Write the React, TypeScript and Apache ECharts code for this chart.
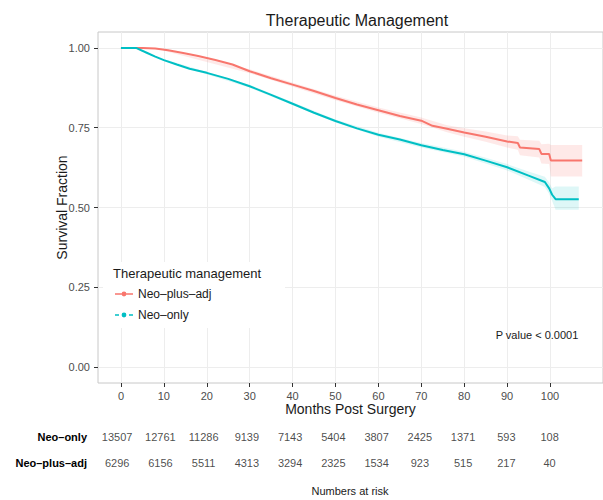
import React, { useEffect, useRef } from "react";
import * as echarts from "echarts";

// Kaplan–Meier estimates
const redMonths = [0, 5, 8, 11, 14.5, 18, 22, 26, 30, 35, 40, 45, 50, 55, 60, 65, 70, 72.6, 76, 80, 85, 90, 92.5, 93, 97.5, 98, 99.8, 100.2, 107.5];
const redSurv = [1, 1, 0.998, 0.993, 0.984, 0.975, 0.962, 0.948, 0.927, 0.905, 0.885, 0.865, 0.843, 0.823, 0.805, 0.787, 0.772, 0.756, 0.747, 0.735, 0.722, 0.707, 0.702, 0.688, 0.683, 0.668, 0.668, 0.647, 0.647];

const cyanMonths = [0, 3.5, 6, 8, 10, 13, 16, 20, 25, 30, 35, 40, 45, 50, 55, 60, 65, 70, 75, 80, 85, 90, 95, 98.8, 99.8, 100.5, 101.3, 106.7];
const cyanSurv = [1, 1, 0.985, 0.973, 0.962, 0.948, 0.935, 0.922, 0.903, 0.88, 0.853, 0.825, 0.797, 0.771, 0.748, 0.728, 0.713, 0.695, 0.68, 0.667, 0.647, 0.626, 0.6, 0.58, 0.56, 0.54, 0.526, 0.526];

// Confidence bands
const redBandMonths = [10, 30, 50, 60, 70, 76, 80, 85, 90, 92.5, 93, 97.5, 98, 99.8, 100.2, 107.5];
const redLower = [0.991, 0.921, 0.836, 0.797, 0.762, 0.736, 0.722, 0.706, 0.688, 0.681, 0.664, 0.657, 0.638, 0.636, 0.597, 0.597];
const redUpper = [0.995, 0.933, 0.85, 0.813, 0.782, 0.758, 0.748, 0.738, 0.726, 0.723, 0.712, 0.709, 0.698, 0.7, 0.696, 0.696];

const cyanBandMonths = [10, 30, 50, 60, 70, 80, 85, 90, 95, 98.8, 99.8, 100.5, 101.3, 106.7];
const cyanLower = [0.959, 0.875, 0.766, 0.722, 0.688, 0.659, 0.638, 0.616, 0.587, 0.564, 0.542, 0.52, 0.493, 0.493];
const cyanUpper = [0.965, 0.885, 0.776, 0.734, 0.702, 0.675, 0.656, 0.636, 0.613, 0.596, 0.578, 0.56, 0.566, 0.566];

// Axis ticks
const xTicks = [0, 10, 20, 30, 40, 50, 60, 70, 80, 90, 100];
const yTicks = [0, 0.25, 0.5, 0.75, 1];

// Numbers at risk
const riskMonths = [0, 10, 20, 30, 40, 50, 60, 70, 80, 90, 100];
const neoOnlyRisk = [13507, 12761, 11286, 9139, 7143, 5404, 3807, 2425, 1371, 593, 108];
const neoPlusRisk = [6296, 6156, 5511, 4313, 3294, 2325, 1534, 923, 515, 217, 40];

const RED = "#F8766D";
const CYAN = "#00BFC4";
const NAME_PLUS = "Neo–plus–adj";
const NAME_ONLY = "Neo–only";
const FONT = "Liberation Sans, Arial, sans-serif";

const solidIcon = "path://M0 3.2H18V4.8H0Z M6.6 4a2.4 2.4 0 1 1 4.8 0a2.4 2.4 0 1 1 -4.8 0Z";
const dashIcon = "path://M0 3.2H4V4.8H0Z M6.6 4a2.4 2.4 0 1 1 4.8 0a2.4 2.4 0 1 1 -4.8 0Z M14 3.2H18V4.8H14Z";

function bandSeries(name: string, months: number[], lo: number[], hi: number[], color: string, opacity: number) {
  return {
    type: "custom",
    name,
    xAxisIndex: 0,
    yAxisIndex: 0,
    z: 1,
    silent: true,
    data: months.map((m, i) => [m, lo[i], hi[i]]),
    encode: { x: 0, y: [1, 2] },
    renderItem: (params: any, api: any) => {
      if (params.dataIndex !== 0) return null;
      const pts: number[][] = [];
      for (let i = 0; i < months.length; i++) pts.push(api.coord([months[i], hi[i]]));
      for (let i = months.length - 1; i >= 0; i--) pts.push(api.coord([months[i], lo[i]]));
      return { type: "polygon", shape: { points: pts }, style: { fill: color, opacity } };
    },
  };
}

function riskSeries(name: string, cat: string, values: number[]) {
  return {
    type: "scatter",
    name,
    xAxisIndex: 1,
    yAxisIndex: 1,
    symbolSize: 0,
    silent: true,
    data: riskMonths.map((m, i) => [m, cat, values[i]]),
    label: {
      show: true,
      position: "inside",
      fontFamily: FONT,
      fontSize: 11,
      color: "#1a1a1a",
      formatter: (p: any) => String(p.value[2]),
    },
  };
}

export default function App() {
  const ref = useRef<HTMLDivElement>(null);
  useEffect(() => {
    if (!ref.current) return;
    const chart = echarts.init(ref.current, null, { renderer: "svg" });
    const option: any = {
      animation: false,
      backgroundColor: "#ffffff",
      textStyle: { fontFamily: FONT },
      title: {
        text: "Therapeutic Management",
        left: 352,
        top: 7,
        textAlign: "center",
        textStyle: { fontFamily: FONT, fontSize: 16, fontWeight: "normal", color: "#1a1a1a" },
      },
      grid: [
        { left: 98, top: 32, right: 0, bottom: 117, show: true, borderColor: "#c8c8c8", borderWidth: 1, backgroundColor: "transparent" },
        { left: 94, width: 515, top: 424, height: 52, show: false },
      ],
      legend: {
        data: [
          { name: NAME_PLUS, icon: solidIcon },
          { name: NAME_ONLY, icon: dashIcon },
        ],
        orient: "vertical",
        left: 115,
        top: 288,
        itemWidth: 18,
        itemHeight: 8,
        itemGap: 9,
        padding: 0,
        itemStyle: { borderWidth: 0 },
        textStyle: { fontFamily: FONT, fontSize: 12, color: "#1a1a1a" },
        selectedMode: false,
      },
      xAxis: [
        {
          gridIndex: 0,
          type: "value",
          min: -5.35,
          max: 112.35,
          name: "Months Post Surgery",
          nameLocation: "middle",
          nameGap: 19,
          nameMoveOverlap: false,
          nameTextStyle: { fontFamily: FONT, fontSize: 14, color: "#1a1a1a" },
          axisLine: { show: false, onZero: false },
          axisTick: { show: true, length: 4, lineStyle: { color: "#333333" }, customValues: xTicks },
          axisLabel: { customValues: xTicks, color: "#4d4d4d", fontSize: 11, margin: 7, fontFamily: FONT },
          splitLine: { show: true, lineStyle: { color: "#ededed", width: 1 } },
        },
        {
          gridIndex: 1,
          type: "value",
          min: -5.35,
          max: 112.35,
          show: false,
          splitLine: { show: false },
        },
      ],
      yAxis: [
        {
          gridIndex: 0,
          type: "value",
          min: -0.05,
          max: 1.05,
          name: "Survival Fraction",
          nameLocation: "middle",
          nameGap: 29,
          nameMoveOverlap: false,
          nameTextStyle: { fontFamily: FONT, fontSize: 14, color: "#1a1a1a" },
          axisLine: { show: false, onZero: false },
          axisTick: { show: true, length: 4, lineStyle: { color: "#333333" }, customValues: yTicks },
          axisLabel: {
            customValues: yTicks,
            color: "#4d4d4d",
            fontSize: 11,
            margin: 8,
            fontFamily: FONT,
            formatter: (v: number) => v.toFixed(2),
          },
          splitLine: { show: true, lineStyle: { color: "#ededed", width: 1 } },
        },
        {
          gridIndex: 1,
          type: "category",
          data: [NAME_PLUS, NAME_ONLY],
          axisLine: { show: false },
          axisTick: { show: false },
          splitLine: { show: false },
          axisLabel: { color: "#000000", fontWeight: "bold", fontSize: 11, margin: 7, fontFamily: FONT },
        },
      ],
      graphic: [
        { type: "rect", z: 1, shape: { x: 103, y: 262, width: 182, height: 66 }, style: { fill: "#ffffff" }, silent: true },
        {
          type: "text",
          z: 5,
          x: 113,
          y: 273,
          style: { text: "Therapeutic management", fontFamily: FONT, fontSize: 13, fill: "#1a1a1a", verticalAlign: "middle", align: "left" },
        },
        {
          type: "text",
          z: 5,
          x: 537,
          y: 335,
          style: { text: "P value < 0.0001", fontFamily: FONT, fontSize: 11, fill: "#1a1a1a", verticalAlign: "middle", align: "center" },
        },
        {
          type: "text",
          z: 5,
          x: 350,
          y: 491,
          style: { text: "Numbers at risk", fontFamily: FONT, fontSize: 11, fill: "#1a1a1a", verticalAlign: "middle", align: "center" },
        },
      ],
      series: [
        bandSeries("band-plus", redBandMonths, redLower, redUpper, RED, 0.16),
        bandSeries("band-only", cyanBandMonths, cyanLower, cyanUpper, CYAN, 0.13),
        {
          type: "line",
          name: NAME_PLUS,
          xAxisIndex: 0,
          yAxisIndex: 0,
          z: 3,
          color: RED,
          showSymbol: false,
          symbol: "none",
          lineStyle: { color: RED, width: 2 },
          data: redMonths.map((m, i) => [m, redSurv[i]]),
        },
        {
          type: "line",
          name: NAME_ONLY,
          xAxisIndex: 0,
          yAxisIndex: 0,
          z: 3,
          color: CYAN,
          showSymbol: false,
          symbol: "none",
          lineStyle: { color: CYAN, width: 2 },
          data: cyanMonths.map((m, i) => [m, cyanSurv[i]]),
        },
        riskSeries("risk-only", NAME_ONLY, neoOnlyRisk),
        riskSeries("risk-plus", NAME_PLUS, neoPlusRisk),
      ],
    };
    chart.setOption(option);
    return () => chart.dispose();
  }, []);
  return <div ref={ref} style={{ position: "fixed", left: 0, top: 0, width: 603, height: 500 }} />;
}
